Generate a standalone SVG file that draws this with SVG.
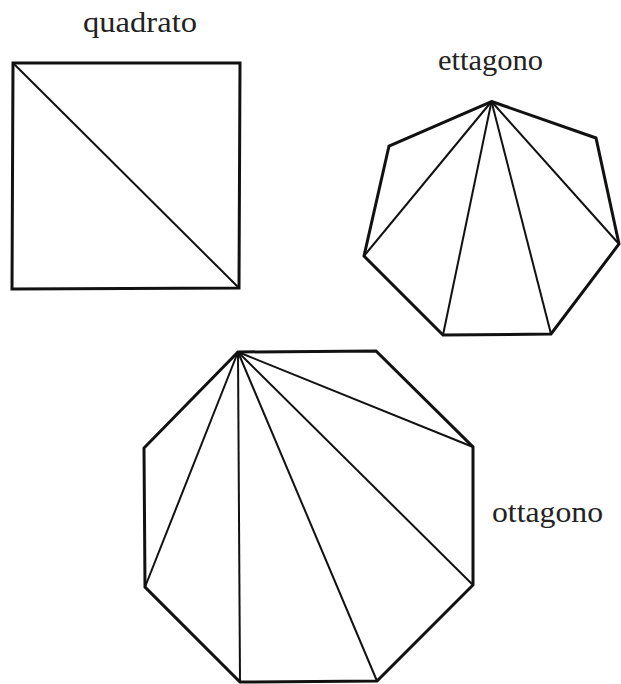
<svg xmlns="http://www.w3.org/2000/svg" width="621" height="684" viewBox="0 0 621 684">
<style>
.outline{fill:none;stroke:#111;stroke-width:3;stroke-linejoin:miter}
.diag{fill:none;stroke:#111;stroke-width:2}
.label{font-family:'Liberation Serif','DejaVu Serif',serif;font-size:29px;fill:#222}
</style>
<rect width="621" height="684" fill="#fff"/>
<g id="quadrato">
<text class="label" x="83" y="32" textLength="114" lengthAdjust="spacingAndGlyphs">quadrato</text>
<polygon class="outline" points="13,63 240,63 239,288 12,289"/>
</g>
<g id="ettagono">
<text class="label" x="438" y="70" textLength="105" lengthAdjust="spacingAndGlyphs">ettagono</text>
<polygon class="outline" points="491.5,101.5 596,138 619,244 551,334 443,335 364,256 389,146"/>
</g>
<g id="ottagono">
<text class="label" x="492" y="522" textLength="111" lengthAdjust="spacingAndGlyphs">ottagono</text>
<polygon class="outline" points="238,352 376,351 473,447 473,585 377,681 240,682 145,587 144,448"/>
</g>
<g id="connectors">
<line class="diag" x1="14" y1="64" x2="239" y2="288"/>
<line class="diag" x1="491.5" y1="101.5" x2="364" y2="256"/>
<line class="diag" x1="491.5" y1="101.5" x2="443" y2="335"/>
<line class="diag" x1="491.5" y1="101.5" x2="551" y2="334"/>
<line class="diag" x1="491.5" y1="101.5" x2="619" y2="244"/>
<line class="diag" x1="238" y1="352" x2="473" y2="447"/>
<line class="diag" x1="238" y1="352" x2="473" y2="585"/>
<line class="diag" x1="238" y1="352" x2="377" y2="681"/>
<line class="diag" x1="238" y1="352" x2="240" y2="682"/>
<line class="diag" x1="238" y1="352" x2="145" y2="587"/>
</g>
</svg>
